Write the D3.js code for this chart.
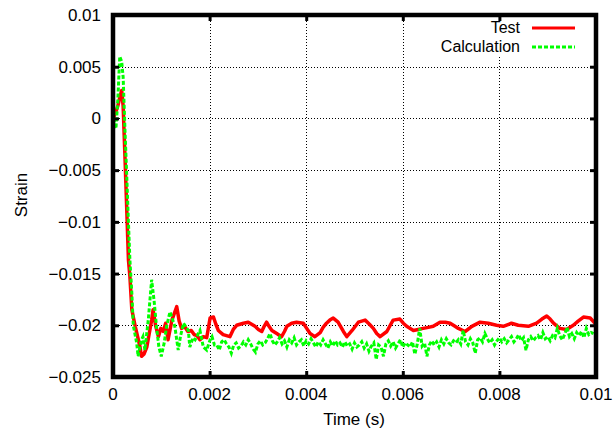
<!DOCTYPE html>
<html><head><meta charset="utf-8">
<script src="https://cdn.jsdelivr.net/npm/d3@7"></script>
<style>
html,body{margin:0;padding:0;background:#fff;}
text{font-family:"Liberation Sans",Arial,Helvetica,sans-serif;font-size:17px;fill:#000;}
</style></head>
<body>
<svg id="chart" width="615" height="436"></svg>
<script>
const xTicks = [0, 0.002, 0.004, 0.006, 0.008, 0.01];
const xTickLabels = ["0", "0.002", "0.004", "0.006", "0.008", "0.01"];
const yTicks = [0.01, 0.005, 0, -0.005, -0.01, -0.015, -0.02, -0.025];
const yTickLabels = ["0.01", "0.005", "0", "\u22120.005", "\u22120.01", "\u22120.015", "\u22120.02", "\u22120.025"];
const seriesNames = ["Test", "Calculation"];

const testData = [[0,0],[0.00005,0.0005],[0.0001,0.0012],[0.00015,0.0022],[0.00018,0.0027],[0.00021,0.0012],[0.00025,-0.004],[0.00032,-0.0137],[0.00035,-0.0153],[0.00039,-0.0185],[0.00046,-0.0201],[0.00056,-0.0221],[0.00059,-0.0230],[0.00064,-0.0228],[0.0007,-0.0221],[0.0008,-0.0195],[0.00083,-0.0185],[0.00088,-0.0200],[0.00094,-0.0211],[0.00099,-0.0203],[0.00104,-0.0206],[0.00109,-0.0198],[0.00114,-0.0214],[0.00122,-0.0195],[0.00132,-0.0182],[0.00137,-0.0196],[0.00142,-0.0203],[0.00148,-0.0201],[0.00155,-0.0206],[0.00162,-0.0205],[0.00168,-0.0209],[0.00174,-0.0210],[0.0018,-0.0214],[0.00187,-0.0211],[0.00194,-0.0212],[0.00201,-0.0193],[0.00208,-0.0192],[0.00213,-0.0199],[0.00218,-0.0205],[0.00228,-0.0209],[0.00235,-0.0210],[0.00242,-0.0211],[0.00249,-0.0204],[0.00256,-0.0200],[0.00263,-0.0199],[0.0027,-0.0198],[0.0028,-0.0197],[0.00287,-0.0199],[0.00294,-0.0201],[0.00301,-0.0204],[0.00308,-0.0206],[0.00313,-0.0201],[0.00318,-0.0197],[0.00323,-0.0201],[0.00329,-0.0205],[0.00339,-0.0208],[0.00349,-0.0211],[0.00355,-0.0206],[0.0036,-0.0201],[0.0037,-0.0198],[0.0038,-0.0197],[0.00394,-0.0198],[0.00401,-0.0203],[0.00408,-0.0208],[0.00418,-0.0211],[0.00429,-0.0207],[0.00435,-0.0202],[0.00442,-0.0198],[0.00449,-0.0195],[0.00456,-0.0193],[0.00466,-0.0197],[0.00477,-0.0206],[0.00484,-0.0211],[0.00495,-0.0205],[0.00508,-0.0197],[0.00515,-0.0196],[0.00522,-0.0195],[0.00531,-0.0199],[0.00539,-0.0203],[0.00546,-0.0208],[0.00553,-0.0211],[0.00567,-0.0206],[0.00574,-0.0200],[0.0058,-0.0195],[0.00594,-0.0194],[0.00601,-0.0198],[0.00608,-0.0201],[0.00622,-0.0205],[0.00632,-0.0204],[0.00642,-0.0203],[0.00653,-0.0202],[0.00663,-0.0201],[0.00677,-0.0197],[0.00688,-0.0197],[0.00698,-0.0198],[0.00708,-0.0201],[0.00715,-0.0203],[0.00729,-0.0206],[0.00743,-0.0201],[0.0076,-0.0197],[0.00777,-0.0198],[0.00794,-0.0200],[0.00808,-0.0201],[0.00825,-0.0198],[0.00839,-0.0200],[0.0086,-0.0201],[0.00877,-0.0198],[0.00888,-0.0194],[0.00898,-0.0191],[0.00905,-0.0194],[0.00912,-0.0198],[0.00925,-0.0203],[0.00939,-0.0204],[0.00953,-0.0200],[0.00963,-0.0196],[0.00974,-0.0192],[0.00988,-0.0193],[0.00998,-0.0198]];

const calcData = [[0.00002,0.0],[0.00004,-0.0008],[0.00006,-0.0010],[0.0001,0.0018],[0.00014,0.0060],[0.00018,0.0055],[0.00021,0.0040],[0.00025,-0.0014],[0.00028,-0.0050],[0.00032,-0.0101],[0.00035,-0.0137],[0.00039,-0.0169],[0.00042,-0.0200],[0.00049,-0.0217],[0.00052,-0.0230],[0.00059,-0.0214],[0.00062,-0.0211],[0.00066,-0.0224],[0.00073,-0.0195],[0.0008,-0.0156],[0.00085,-0.0176],[0.0009,-0.0201],[0.00095,-0.0221],[0.001,-0.0230],[0.00106,-0.0217],[0.00111,-0.0201],[0.00118,-0.0187],[0.00128,-0.0201],[0.00135,-0.0224],[0.0014,-0.0210],[0.00146,-0.0198],[0.00156,-0.0205],[0.00159,-0.0221],[0.00166,-0.0212],[0.0017,-0.0214],[0.0018,-0.0205],[0.00187,-0.0221],[0.00194,-0.0224],[0.00201,-0.0214],[0.00205,-0.0211],[0.0021,-0.0219],
[0.00215,-0.0219],[0.0022,-0.0224],[0.00225,-0.0216],[0.0023,-0.0214],[0.00235,-0.0218],[0.0024,-0.0221],[0.00245,-0.0227],[0.0025,-0.0219],[0.00255,-0.0217],[0.0026,-0.0222],
[0.00265,-0.0220],[0.0027,-0.0216],[0.00275,-0.0219],[0.0028,-0.0214],[0.00285,-0.0218],[0.0029,-0.0223],[0.00295,-0.0226],[0.003,-0.0218],[0.00305,-0.0215],[0.0031,-0.0219],
[0.00315,-0.0217],[0.0032,-0.0213],[0.00325,-0.0208],[0.0033,-0.0215],[0.00335,-0.0219],[0.0034,-0.0216],[0.00345,-0.0212],[0.0035,-0.0218],[0.00355,-0.0215],[0.0036,-0.0221],
[0.00365,-0.0214],[0.0037,-0.0217],[0.00375,-0.0212],[0.0038,-0.0219],[0.00385,-0.0216],[0.0039,-0.0214],[0.00395,-0.0220],[0.004,-0.0215],[0.00405,-0.0218],[0.0041,-0.0213],
[0.00415,-0.0217],[0.0042,-0.0221],[0.00425,-0.0216],[0.0043,-0.0219],[0.00435,-0.0214],[0.0044,-0.0218],[0.00445,-0.0222],[0.0045,-0.0216],[0.00455,-0.0220],[0.0046,-0.0215],
[0.00465,-0.0219],[0.0047,-0.0217],[0.00475,-0.0221],[0.0048,-0.0216],[0.00485,-0.0220],[0.0049,-0.0218],[0.00495,-0.0223],[0.005,-0.0217],[0.00505,-0.0221],[0.0051,-0.0219],
[0.00515,-0.0216],[0.0052,-0.0222],[0.00525,-0.0218],[0.0053,-0.0225],[0.00535,-0.0220],[0.0054,-0.0217],[0.00545,-0.0233],[0.0055,-0.0219],[0.00555,-0.0221],[0.0056,-0.0230],
[0.00565,-0.0218],[0.0057,-0.0215],[0.00575,-0.0220],[0.0058,-0.0216],[0.00585,-0.0222],[0.0059,-0.0218],[0.00595,-0.0214],[0.006,-0.0221],[0.00605,-0.0217],[0.0061,-0.0219],
[0.00615,-0.0221],[0.0062,-0.0216],[0.00625,-0.0228],[0.0063,-0.0218],[0.00635,-0.0203],[0.0064,-0.0220],[0.00645,-0.0217],[0.0065,-0.0230],[0.00655,-0.0219],[0.0066,-0.0215],
[0.00665,-0.0219],[0.0067,-0.0216],[0.00675,-0.0221],[0.0068,-0.0214],[0.00685,-0.0218],[0.0069,-0.0213],[0.00695,-0.0217],[0.007,-0.0219],[0.00705,-0.0215],[0.0071,-0.0217],
[0.00715,-0.0214],[0.0072,-0.0218],[0.00725,-0.0205],[0.0073,-0.0216],[0.00735,-0.0219],[0.0074,-0.0213],[0.00745,-0.0217],[0.0075,-0.0227],[0.00755,-0.0214],[0.0076,-0.0212],
[0.00765,-0.0216],[0.0077,-0.0208],[0.00775,-0.0213],[0.0078,-0.0217],[0.00785,-0.0214],[0.0079,-0.0219],[0.00795,-0.0215],[0.008,-0.0212],[0.00805,-0.0216],[0.0081,-0.0213],
[0.00815,-0.0217],[0.0082,-0.0214],[0.00825,-0.0211],[0.0083,-0.0216],[0.00835,-0.0213],[0.0084,-0.0209],[0.00845,-0.0215],[0.0085,-0.0212],[0.00855,-0.0224],[0.0086,-0.0214],
[0.00865,-0.0211],[0.0087,-0.0215],[0.00875,-0.0212],[0.0088,-0.0210],[0.00885,-0.0214],[0.0089,-0.0207],[0.00895,-0.0213],[0.009,-0.0211],[0.00905,-0.0215],[0.0091,-0.0210],
[0.00915,-0.0212],[0.0092,-0.0203],[0.00925,-0.0210],[0.0093,-0.0214],[0.00935,-0.0209],[0.0094,-0.0202],[0.00945,-0.0211],[0.0095,-0.0208],[0.00955,-0.0213],[0.0096,-0.0207],
[0.00965,-0.0210],[0.0097,-0.0206],[0.00975,-0.0212],[0.0098,-0.0203],[0.00985,-0.0209],[0.0099,-0.0207],[0.00995,-0.0208]];

const svg = d3.select("#chart");
const L = 113, R = 596, T = 15, B = 377;
const x = d3.scaleLinear().domain([0, 0.01]).range([L, R]);
const y = d3.scaleLinear().domain([-0.025, 0.01]).range([B, T]);

// grid
const grid = svg.append("g").attr("stroke", "#000").attr("stroke-width", 1).attr("stroke-dasharray", "1,2");
grid.selectAll("line.gx").data(xTicks.filter(d => d > 0 && d < 0.01)).join("line")
  .attr("x1", d => Math.round(x(d)) + 0.5).attr("x2", d => Math.round(x(d)) + 0.5)
  .attr("y1", T).attr("y2", B);
grid.selectAll("line.gy").data(yTicks.filter(d => d > -0.025 && d < 0.01)).join("line")
  .attr("y1", d => Math.round(y(d)) + 0.5).attr("y2", d => Math.round(y(d)) + 0.5)
  .attr("x1", L).attr("x2", R);

// legend background
svg.append("rect").attr("x", 410).attr("y", 18).attr("width", 182).attr("height", 38).attr("fill", "#fff");

// clip
svg.append("clipPath").attr("id", "clip").append("rect").attr("x", L).attr("y", T).attr("width", R - L).attr("height", B - T);

const line = d3.line().x(d => x(d[0])).y(d => y(d[1]));
const plot = svg.append("g").attr("clip-path", "url(#clip)");
plot.append("path").datum(testData).attr("d", line)
  .attr("fill", "none").attr("stroke", "#ff0000").attr("stroke-width", 3.5).attr("stroke-linejoin", "round");
plot.append("path").datum(calcData).attr("d", line)
  .attr("fill", "none").attr("stroke", "#00ff00").attr("stroke-width", 3).attr("stroke-dasharray", "4,2");

// axes with inward ticks
const xAxisB = d3.axisBottom(x).tickValues(xTicks).tickSize(-6).tickFormat("");
const xAxisT = d3.axisTop(x).tickValues(xTicks).tickSize(-6).tickFormat("");
const yAxisL = d3.axisLeft(y).tickValues(yTicks).tickSize(-6).tickFormat("");
const yAxisR = d3.axisRight(y).tickValues(yTicks).tickSize(-6).tickFormat("");
function styleAxis(g) { g.select(".domain").remove(); g.selectAll(".tick line").attr("stroke", "#000").attr("stroke-width", 3); }
svg.append("g").attr("transform", `translate(0,${B})`).call(xAxisB).call(styleAxis);
svg.append("g").attr("transform", `translate(0,${T})`).call(xAxisT).call(styleAxis);
svg.append("g").attr("transform", `translate(${L},0)`).call(yAxisL).call(styleAxis);
svg.append("g").attr("transform", `translate(${R},0)`).call(yAxisR).call(styleAxis);

// frame
svg.append("rect").attr("x", L).attr("y", T).attr("width", R - L).attr("height", B - T)
  .attr("fill", "none").attr("stroke", "#000").attr("stroke-width", 4.5);

// tick labels
svg.append("g").selectAll("text").data(xTicks).join("text")
  .attr("x", d => x(d)).attr("y", 400).attr("text-anchor", "middle")
  .text((d, i) => xTickLabels[i]);
svg.append("g").selectAll("text").data(yTicks).join("text")
  .attr("x", 101).attr("y", d => y(d) + 6).attr("text-anchor", "end")
  .text((d, i) => yTickLabels[i]);

// axis titles
svg.append("text").attr("x", 354).attr("y", 425).attr("text-anchor", "middle").text("Time (s)");
svg.append("text").attr("transform", "translate(27,195) rotate(-90)").attr("text-anchor", "middle").text("Strain");

// legend
const legendColors = ["#ff0000", "#00ff00"];
const legendDash = [null, "4,2"];
const lg = svg.append("g");
seriesNames.forEach((name, i) => {
  const ly = 28 + i * 19;
  lg.append("text").attr("x", 520).attr("y", ly + 5).attr("text-anchor", "end")
    .style("font-size", "16px").text(name);
  lg.append("line").attr("x1", 532).attr("x2", 575).attr("y1", ly).attr("y2", ly)
    .attr("stroke", legendColors[i]).attr("stroke-width", 3).attr("stroke-dasharray", legendDash[i]);
});
</script>
</body></html>
